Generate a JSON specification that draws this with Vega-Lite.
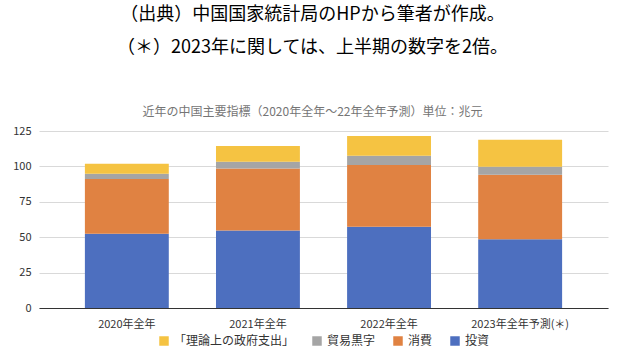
{
  "$schema": "https://vega.github.io/schema/vega-lite/v6.json",
  "width": 569,
  "height": 177,
  "autosize": {"type": "pad"},
  "padding": {"left": 12, "top": 6, "right": 10, "bottom": 5},
  "background": "white",
  "title": {
    "text": ["（出典）中国国家統計局のHPから筆者が作成。", "（＊）2023年に関しては、上半期の数字を2倍。"],
    "subtitle": "近年の中国主要指標（2020年全年～22年全年予測）単位：兆元",
    "font": "Noto Sans CJK JP",
    "fontSize": 18,
    "fontWeight": 400,
    "lineHeight": 33,
    "color": "#000000",
    "subtitleFont": "Noto Sans CJK JP",
    "subtitleFontSize": 12,
    "subtitleColor": "#757575",
    "subtitlePadding": 50,
    "anchor": "middle",
    "dx": -11,
    "offset": 7
  },
  "data": {
    "values": [
      {"year": "2020年全年", "item": "投資", "k": 1, "value": 52.5},
      {"year": "2020年全年", "item": "消費", "k": 2, "value": 38.6},
      {"year": "2020年全年", "item": "貿易黒字", "k": 3, "value": 3.7},
      {"year": "2020年全年", "item": "「理論上の政府支出」", "k": 4, "value": 7.1},
      {"year": "2021年全年", "item": "投資", "k": 1, "value": 54.8},
      {"year": "2021年全年", "item": "消費", "k": 2, "value": 43.8},
      {"year": "2021年全年", "item": "貿易黒字", "k": 3, "value": 4.7},
      {"year": "2021年全年", "item": "「理論上の政府支出」", "k": 4, "value": 11.1},
      {"year": "2022年全年", "item": "投資", "k": 1, "value": 57.4},
      {"year": "2022年全年", "item": "消費", "k": 2, "value": 43.6},
      {"year": "2022年全年", "item": "貿易黒字", "k": 3, "value": 6.6},
      {"year": "2022年全年", "item": "「理論上の政府支出」", "k": 4, "value": 13.9},
      {"year": "2023年全年予測(＊)", "item": "投資", "k": 1, "value": 48.5},
      {"year": "2023年全年予測(＊)", "item": "消費", "k": 2, "value": 45.6},
      {"year": "2023年全年予測(＊)", "item": "貿易黒字", "k": 3, "value": 5.7},
      {"year": "2023年全年予測(＊)", "item": "「理論上の政府支出」", "k": 4, "value": 19.1}
    ]
  },
  "mark": {"type": "bar"},
  "encoding": {
    "x": {
      "field": "year",
      "type": "nominal",
      "sort": null,
      "scale": {"paddingInner": 0.36, "paddingOuter": 0.35},
      "axis": {
        "title": null,
        "labelAngle": 0,
        "labelFont": "Noto Sans CJK JP",
        "labelFontSize": 11,
        "labelColor": "#333333",
        "labelPadding": 10,
        "ticks": false,
        "domainColor": "#333333",
        "domainWidth": 1,
        "grid": false
      }
    },
    "y": {
      "field": "value",
      "type": "quantitative",
      "stack": "zero",
      "scale": {"domain": [0, 125], "nice": false},
      "axis": {
        "title": null,
        "values": [0, 25, 50, 75, 100, 125],
        "labelFont": "Noto Sans CJK JP",
        "labelFontSize": 11,
        "labelColor": "#333333",
        "labelPadding": 8,
        "ticks": false,
        "domain": false,
        "gridColor": "#d9d9d9",
        "gridWidth": 1
      }
    },
    "color": {
      "field": "item",
      "type": "nominal",
      "scale": {
        "domain": ["「理論上の政府支出」", "貿易黒字", "消費", "投資"],
        "range": ["#F5C342", "#A5A5A5", "#E08242", "#4D6FBF"]
      },
      "legend": {
        "title": null,
        "orient": "bottom",
        "direction": "horizontal",
        "symbolType": "square",
        "symbolSize": 90,
        "symbolStrokeWidth": 0,
        "labelFont": "Noto Sans CJK JP",
        "labelFontSize": 12,
        "labelColor": "#333333",
        "columnPadding": 16,
        "offset": 6
      }
    },
    "order": {"field": "k", "type": "quantitative", "sort": "ascending"}
  },
  "config": {
    "view": {"stroke": null},
    "legend": {"layout": {"bottom": {"anchor": "middle"}}}
  }
}
